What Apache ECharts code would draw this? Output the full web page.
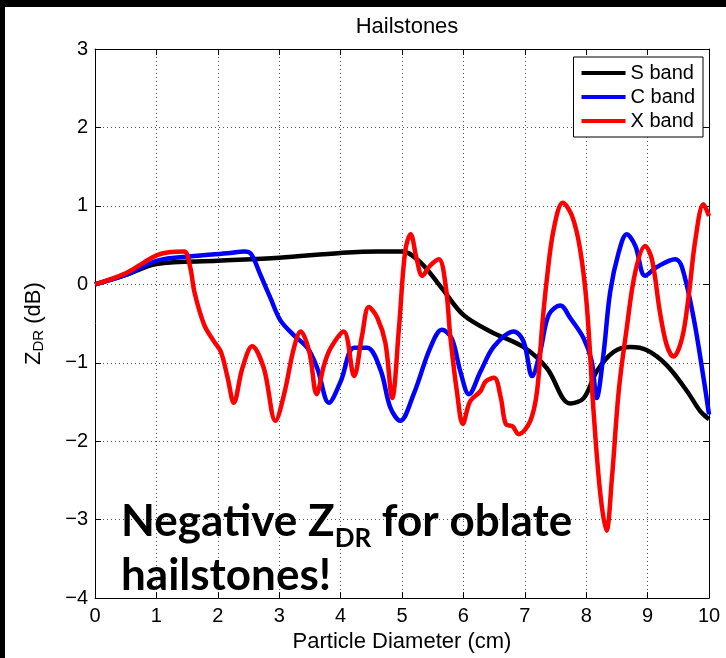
<!DOCTYPE html>
<html>
<head>
<meta charset="utf-8">
<script src="https://cdn.jsdelivr.net/npm/echarts@6/dist/echarts.min.js"></script>
<style>
  html, body { margin: 0; padding: 0; background: #fff; }
  #chart { width: 726px; height: 658px; }
</style>
</head>
<body>
<div id="chart"></div>
<script>
// Differential reflectivity of hailstones vs particle diameter, three radar bands
const xTicks = [0, 1, 2, 3, 4, 5, 6, 7, 8, 9, 10];
const yTicks = [-4, -3, -2, -1, 0, 1, 2, 3];

const sBandX = [0, 0.5, 1, 2, 3, 4, 4.6, 5, 5.3, 5.65, 6, 6.44, 7, 7.36, 7.74, 7.96, 8.17, 8.45, 8.72, 8.99, 9.31, 9.64, 9.86, 10];
const sBandY = [0, 0.12, 0.26, 0.3, 0.34, 0.4, 0.42, 0.42, 0.28, -0.05, -0.39, -0.6, -0.81, -1.07, -1.52, -1.45, -1.11, -0.86, -0.8, -0.84, -1.03, -1.36, -1.62, -1.72];

const cBandX = [0, 0.5, 1, 1.61, 2.2, 2.43, 2.54, 2.7, 2.86, 3.02, 3.24, 3.46, 3.62, 3.81, 4.0, 4.22, 4.43, 4.65, 4.81, 4.97, 5.19, 5.46, 5.65, 5.81, 5.95, 6.09, 6.28, 6.5, 6.82, 6.98, 7.12, 7.25, 7.39, 7.58, 7.74, 7.96, 8.09, 8.17, 8.28, 8.39, 8.53, 8.66, 8.8, 8.96, 9.15, 9.45, 9.56, 9.75, 9.91, 10];
const cBandY = [0, 0.12, 0.3, 0.36, 0.4, 0.42, 0.39, 0.11, -0.18, -0.46, -0.65, -0.81, -1.07, -1.51, -1.24, -0.81, -0.81, -1.09, -1.57, -1.74, -1.4, -0.81, -0.58, -0.69, -1.11, -1.4, -1.11, -0.79, -0.6, -0.73, -1.17, -0.86, -0.39, -0.27, -0.43, -0.69, -0.98, -1.45, -0.9, -0.1, 0.41, 0.64, 0.49, 0.11, 0.22, 0.32, 0.22, -0.43, -1.19, -1.66];

const xBandX = [0, 0.5, 0.8, 1, 1.2, 1.45, 1.55, 1.62, 1.78, 1.94, 2.05, 2.16, 2.26, 2.4, 2.56, 2.75, 2.94, 3.08, 3.24, 3.35, 3.49, 3.61, 3.73, 3.84, 4.05, 4.22, 4.35, 4.46, 4.6, 4.73, 4.84, 4.95, 5.05, 5.14, 5.24, 5.33, 5.46, 5.6, 5.71, 5.79, 5.9, 5.99, 6.11, 6.28, 6.36, 6.5, 6.61, 6.69, 6.8, 6.9, 7.09, 7.2, 7.28, 7.36, 7.47, 7.62, 7.77, 7.9, 8.01, 8.12, 8.23, 8.33, 8.42, 8.53, 8.66, 8.8, 8.96, 9.07, 9.2, 9.31, 9.42, 9.56, 9.67, 9.78, 9.91, 10];
const xBandY = [0, 0.14, 0.28, 0.37, 0.41, 0.42, 0.22, -0.1, -0.52, -0.73, -0.86, -1.19, -1.51, -1.07, -0.79, -1.07, -1.74, -1.4, -0.81, -0.6, -0.86, -1.4, -1.03, -0.81, -0.6, -1.17, -0.65, -0.29, -0.43, -0.75, -1.45, -0.56, 0.41, 0.64, 0.32, 0.11, 0.24, 0.32, -0.01, -0.69, -1.4, -1.78, -1.49, -1.36, -1.24, -1.19, -1.45, -1.78, -1.81, -1.91, -1.74, -1.36, -0.56, 0.07, 0.7, 1.04, 0.87, 0.45, -0.27, -1.62, -2.67, -3.14, -2.46, -1.36, -0.56, 0.16, 0.49, 0.32, -0.35, -0.77, -0.92, -0.69, -0.14, 0.58, 1.02, 0.87];

const seriesNames = ['S band', 'C band', 'X band'];
const seriesColors = ['#000000', '#0000ff', '#ff0000'];

function zip(xs, ys) { return xs.map((x, i) => [x, ys[i]]); }
const seriesData = [zip(sBandX, sBandY), zip(cBandX, cBandY), zip(xBandX, xBandY)];

const FONT = 'Liberation Sans, Arial, Helvetica, sans-serif';
const minus = v => String(v).replace('-', '\u2212');

const tickStyle = { show: true, inside: true, length: 6, lineStyle: { color: '#000', width: 1 } };
const axisLine = { show: true, onZero: false, lineStyle: { color: '#000', width: 1 } };
const gridLine = { show: true, lineStyle: { color: '#555', width: 1, type: [1, 3] } };

const chart = echarts.init(document.getElementById('chart'), null, { renderer: 'canvas' });

chart.setOption({
  backgroundColor: '#fff',
  animation: false,
  title: {
    text: 'Hailstones',
    left: 402, top: 11, textAlign: 'center',
    textStyle: { fontFamily: FONT, fontSize: 22, fontWeight: 'normal', color: '#000' }
  },
  legend: {
    orient: 'vertical',
    right: 23, top: 57,
    padding: [5, 8, 5, 8],
    itemGap: 2,
    itemWidth: 44, itemHeight: 4,
    icon: 'rect',
    backgroundColor: '#fff',
    borderColor: '#000', borderWidth: 1, borderRadius: 0,
    textStyle: { fontFamily: FONT, fontSize: 20, color: '#000', lineHeight: 22 },
    data: seriesNames
  },
  grid: { left: 95, top: 49, right: 17, bottom: 57 },
  xAxis: [{
    type: 'value', min: xTicks[0], max: xTicks[xTicks.length - 1], interval: 1,
    position: 'bottom',
    axisLine, axisTick: tickStyle, splitLine: gridLine,
    axisLabel: { fontFamily: FONT, fontSize: 20, color: '#000', margin: 8 },
    name: 'Particle Diameter (cm)', nameLocation: 'middle', nameGap: 29,
    nameTextStyle: { fontFamily: FONT, fontSize: 22, color: '#000' }
  }, {
    type: 'value', min: xTicks[0], max: xTicks[xTicks.length - 1], interval: 1,
    position: 'top',
    axisLine, axisTick: tickStyle, splitLine: { show: false }, axisLabel: { show: false }
  }],
  yAxis: [{
    type: 'value', min: yTicks[0], max: yTicks[yTicks.length - 1], interval: 1,
    position: 'left',
    axisLine, axisTick: tickStyle, splitLine: gridLine,
    axisLabel: { fontFamily: FONT, fontSize: 20, color: '#000', margin: 7, formatter: minus },
    name: '{m|Z}{s|DR}{m| (dB)}', nameLocation: 'middle', nameGap: 48, nameRotate: 90,
    nameTextStyle: {
      fontFamily: FONT, fontSize: 22, color: '#000',
      rich: {
        m: { fontFamily: FONT, fontSize: 22, color: '#000', lineHeight: 26 },
        s: { fontFamily: FONT, fontSize: 15, color: '#000', lineHeight: 26, padding: [10, 0, 0, 0] }
      }
    }
  }, {
    type: 'value', min: yTicks[0], max: yTicks[yTicks.length - 1], interval: 1,
    position: 'right',
    axisLine, axisTick: tickStyle, splitLine: { show: false }, axisLabel: { show: false }
  }],
  series: seriesNames.map((name, i) => ({
    name, type: 'line',
    data: seriesData[i],
    smooth: 0.35,
    showSymbol: false, symbol: 'none',
    clip: true,
    color: seriesColors[i],
    lineStyle: { color: seriesColors[i], width: 4.5 },
    z: 2 + i
  })),
  graphic: [
    {
      type: 'text', left: 121, top: 492, z: 100,
      style: {
        text: '{b|Negative Z}{s|DR}{b| for oblate}\n{b|hailstones!}',
        rich: {
          b: { fontFamily: 'Lato, Open Sans, sans-serif', fontWeight: 'bold', fontSize: 44, lineHeight: 54, fill: '#000' },
          s: { fontFamily: 'Lato, Open Sans, sans-serif', fontWeight: 'bold', fontSize: 26, lineHeight: 54, fill: '#000', padding: [34, 0, 0, 0] }
        }
      }
    },
    { type: 'rect', left: 0, top: 0, z: 200, shape: { width: 726, height: 7 }, style: { fill: '#000' } },
    { type: 'rect', left: 0, top: 0, z: 200, shape: { width: 5, height: 658 }, style: { fill: '#000' } }
  ]
});
</script>
</body>
</html>
